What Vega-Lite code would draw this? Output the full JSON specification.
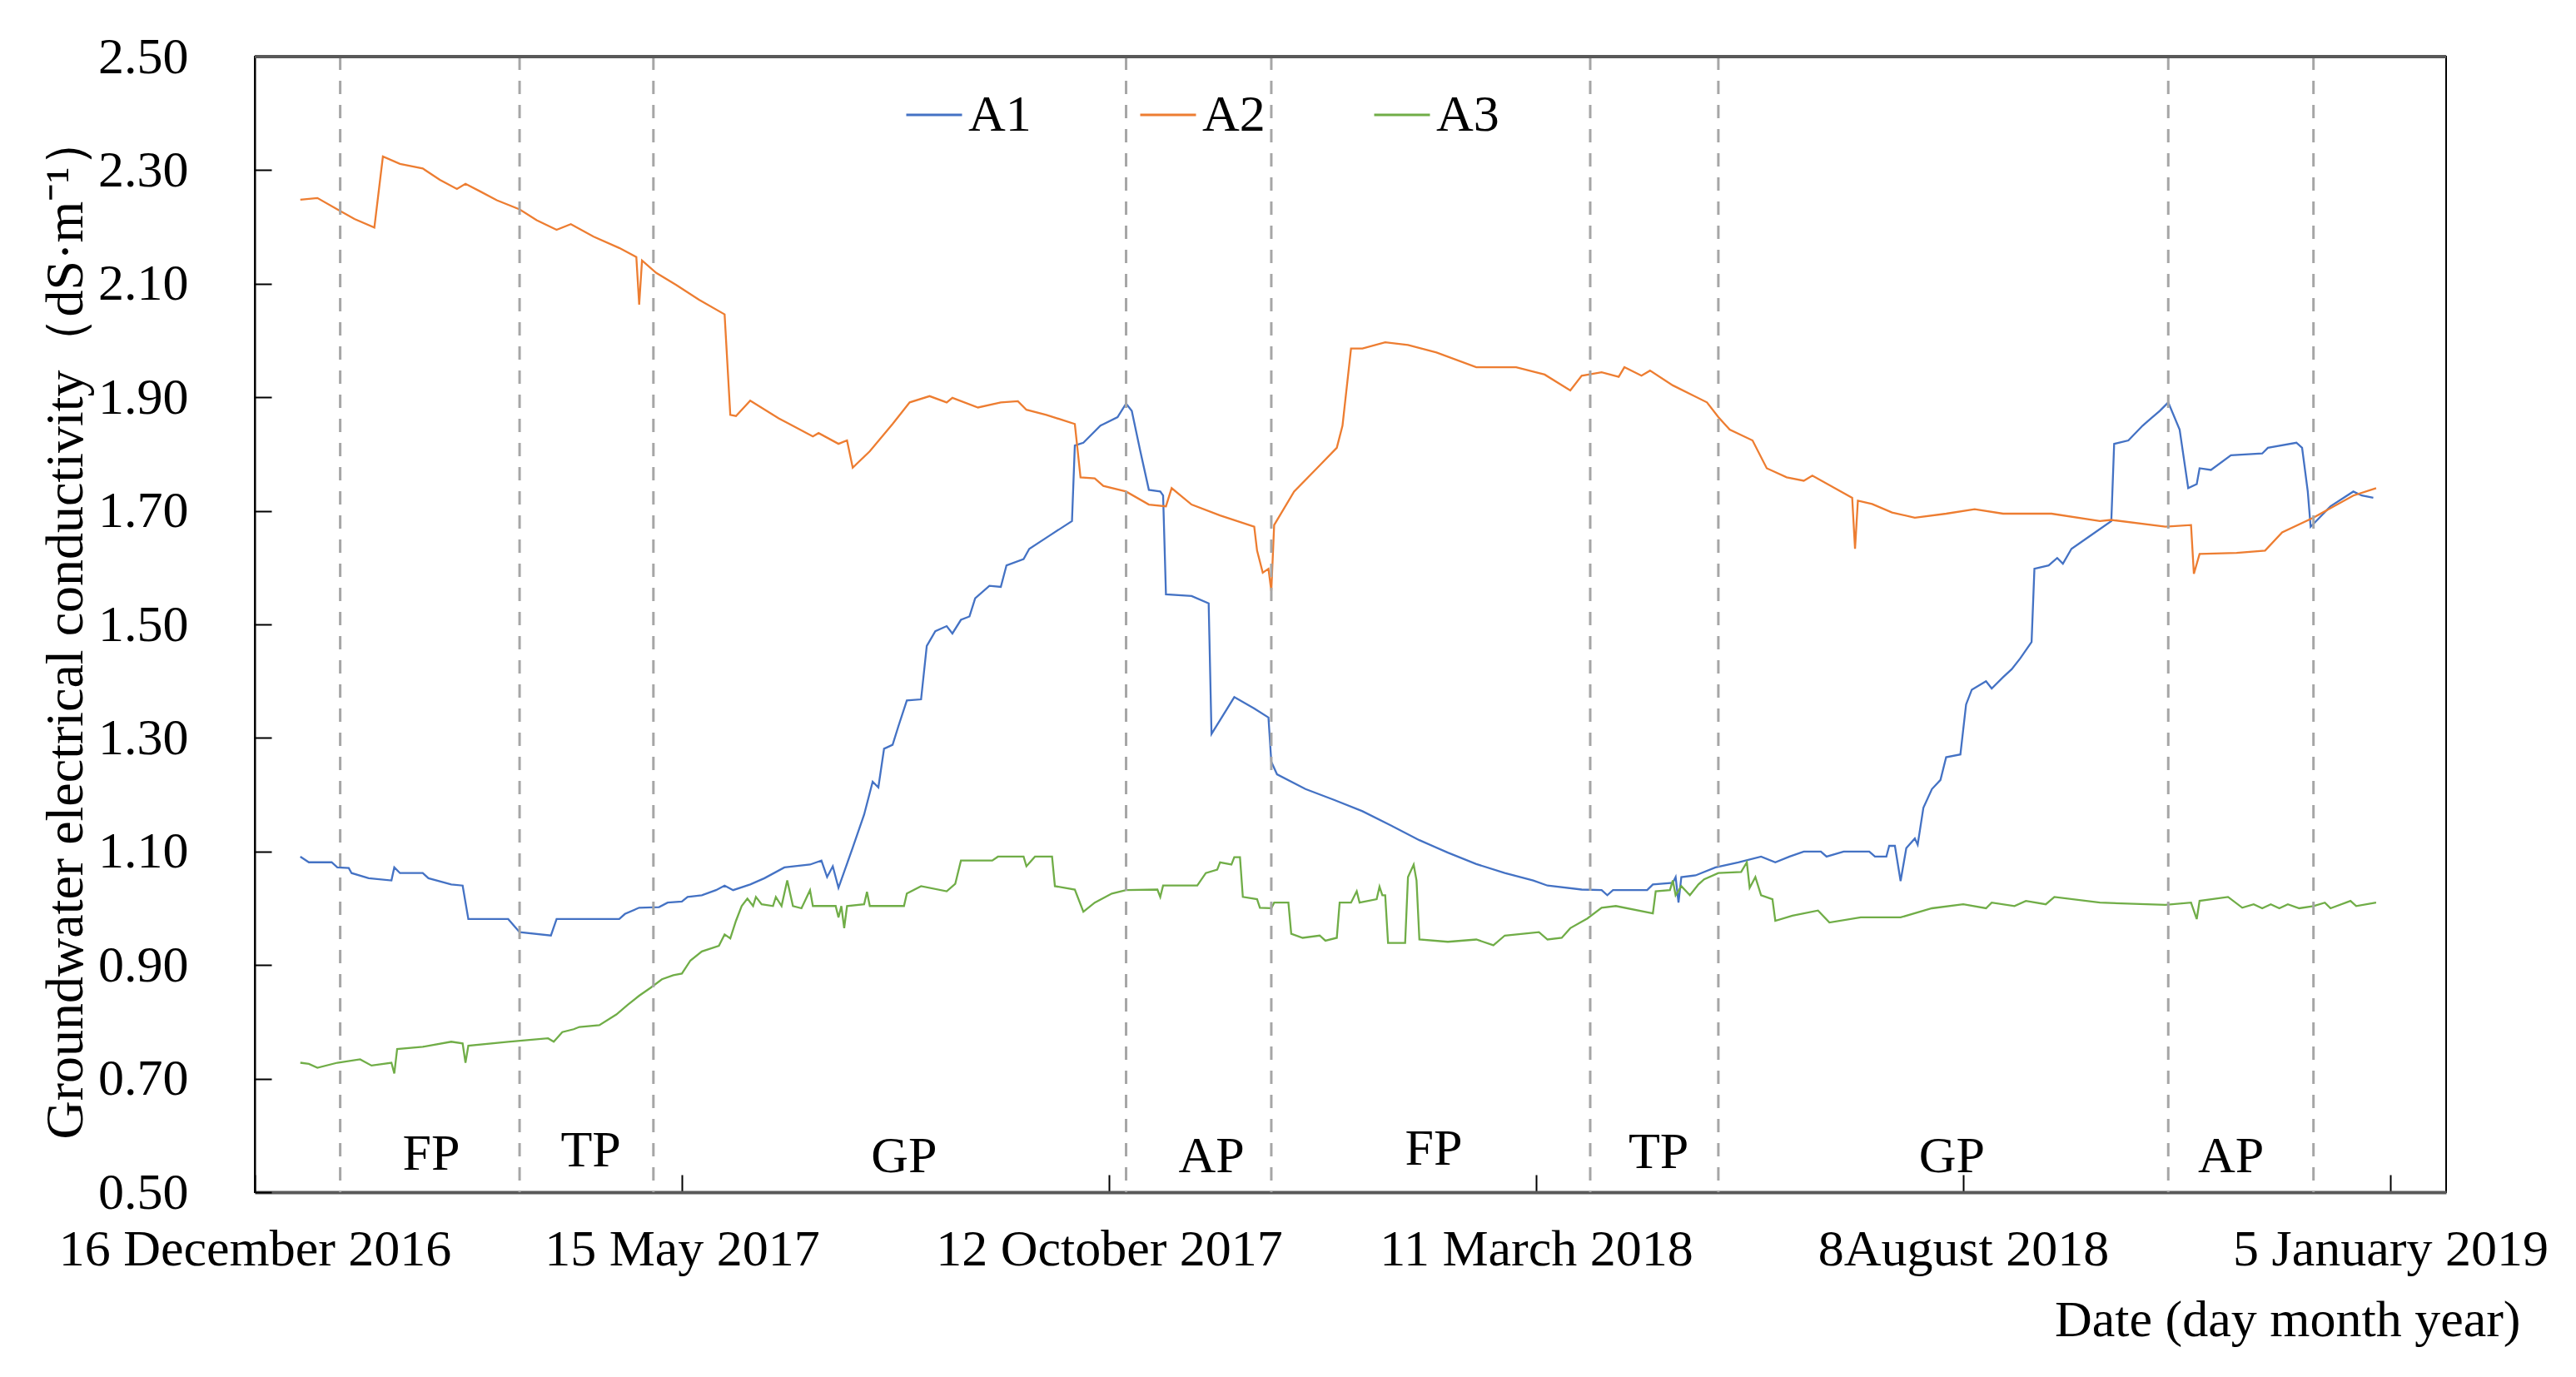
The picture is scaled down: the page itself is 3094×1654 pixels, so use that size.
{
  "$schema": "https://vega.github.io/schema/vega-lite/v6.json",
  "width": 2632,
  "height": 1364,
  "autosize": {"type": "none"},
  "padding": {"left": 306, "top": 68, "right": 156, "bottom": 222},
  "background": "white",
  "config": {
    "view": {"stroke": "#000000", "strokeWidth": 2},
    "font": "Liberation Serif"
  },
  "datasets": {
    "bounds": [
      {"date": "2017-01-15"}, {"date": "2017-03-19"}, {"date": "2017-05-05"},
      {"date": "2017-10-18"}, {"date": "2017-12-08"}, {"date": "2018-03-30"},
      {"date": "2018-05-14"}, {"date": "2018-10-19"}, {"date": "2018-12-09"}
    ],
    "periods": [
      {"date": "2017-02-16", "ec": 0.54, "label": "FP"},
      {"date": "2017-04-13", "ec": 0.545, "label": "TP"},
      {"date": "2017-08-01", "ec": 0.535, "label": "GP"},
      {"date": "2017-11-17", "ec": 0.535, "label": "AP"},
      {"date": "2018-02-03", "ec": 0.548, "label": "FP"},
      {"date": "2018-04-23", "ec": 0.543, "label": "TP"},
      {"date": "2018-08-04", "ec": 0.535, "label": "GP"},
      {"date": "2018-11-10", "ec": 0.535, "label": "AP"}
    ],
    "top": [{"ec": 2.5}],
    "ec": [
      {"site":"A1","date":"2017-01-01","ec":1.091},{"site":"A1","date":"2017-01-04","ec":1.081},{"site":"A1","date":"2017-01-12","ec":1.081},{"site":"A1","date":"2017-01-14","ec":1.072},{"site":"A1","date":"2017-01-18","ec":1.071},{"site":"A1","date":"2017-01-19","ec":1.062},{"site":"A1","date":"2017-01-25","ec":1.053},{"site":"A1","date":"2017-02-02","ec":1.049},{"site":"A1","date":"2017-02-03","ec":1.072},{"site":"A1","date":"2017-02-05","ec":1.062},{"site":"A1","date":"2017-02-13","ec":1.062},{"site":"A1","date":"2017-02-15","ec":1.053},{"site":"A1","date":"2017-02-23","ec":1.042},{"site":"A1","date":"2017-02-27","ec":1.040},{"site":"A1","date":"2017-03-01","ec":0.981},{"site":"A1","date":"2017-03-15","ec":0.981},{"site":"A1","date":"2017-03-19","ec":0.958},{"site":"A1","date":"2017-03-30","ec":0.952},{"site":"A1","date":"2017-04-01","ec":0.981},{"site":"A1","date":"2017-04-23","ec":0.981},{"site":"A1","date":"2017-04-25","ec":0.990},{"site":"A1","date":"2017-04-30","ec":1.001},{"site":"A1","date":"2017-05-07","ec":1.002},{"site":"A1","date":"2017-05-10","ec":1.010},{"site":"A1","date":"2017-05-15","ec":1.012},{"site":"A1","date":"2017-05-17","ec":1.020},{"site":"A1","date":"2017-05-22","ec":1.023},{"site":"A1","date":"2017-05-27","ec":1.032},{"site":"A1","date":"2017-05-30","ec":1.040},{"site":"A1","date":"2017-06-02","ec":1.032},{"site":"A1","date":"2017-06-08","ec":1.042},{"site":"A1","date":"2017-06-13","ec":1.053},{"site":"A1","date":"2017-06-20","ec":1.072},{"site":"A1","date":"2017-06-29","ec":1.077},{"site":"A1","date":"2017-07-03","ec":1.084},{"site":"A1","date":"2017-07-05","ec":1.055},{"site":"A1","date":"2017-07-07","ec":1.074},{"site":"A1","date":"2017-07-09","ec":1.036},{"site":"A1","date":"2017-07-14","ec":1.107},{"site":"A1","date":"2017-07-18","ec":1.165},{"site":"A1","date":"2017-07-21","ec":1.223},{"site":"A1","date":"2017-07-23","ec":1.213},{"site":"A1","date":"2017-07-25","ec":1.281},{"site":"A1","date":"2017-07-28","ec":1.288},{"site":"A1","date":"2017-07-30","ec":1.320},{"site":"A1","date":"2017-08-02","ec":1.366},{"site":"A1","date":"2017-08-07","ec":1.368},{"site":"A1","date":"2017-08-09","ec":1.462},{"site":"A1","date":"2017-08-12","ec":1.488},{"site":"A1","date":"2017-08-16","ec":1.497},{"site":"A1","date":"2017-08-18","ec":1.484},{"site":"A1","date":"2017-08-21","ec":1.508},{"site":"A1","date":"2017-08-24","ec":1.514},{"site":"A1","date":"2017-08-26","ec":1.546},{"site":"A1","date":"2017-08-31","ec":1.568},{"site":"A1","date":"2017-09-04","ec":1.566},{"site":"A1","date":"2017-09-06","ec":1.604},{"site":"A1","date":"2017-09-12","ec":1.615},{"site":"A1","date":"2017-09-14","ec":1.633},{"site":"A1","date":"2017-09-21","ec":1.656},{"site":"A1","date":"2017-09-29","ec":1.682},{"site":"A1","date":"2017-09-30","ec":1.815},{"site":"A1","date":"2017-10-03","ec":1.820},{"site":"A1","date":"2017-10-09","ec":1.850},{"site":"A1","date":"2017-10-15","ec":1.865},{"site":"A1","date":"2017-10-18","ec":1.889},{"site":"A1","date":"2017-10-20","ec":1.876},{"site":"A1","date":"2017-10-23","ec":1.805},{"site":"A1","date":"2017-10-26","ec":1.737},{"site":"A1","date":"2017-10-30","ec":1.734},{"site":"A1","date":"2017-10-31","ec":1.727},{"site":"A1","date":"2017-11-01","ec":1.553},{"site":"A1","date":"2017-11-10","ec":1.550},{"site":"A1","date":"2017-11-16","ec":1.537},{"site":"A1","date":"2017-11-17","ec":1.307},{"site":"A1","date":"2017-11-25","ec":1.372},{"site":"A1","date":"2017-12-02","ec":1.352},{"site":"A1","date":"2017-12-07","ec":1.336},{"site":"A1","date":"2017-12-08","ec":1.258},{"site":"A1","date":"2017-12-10","ec":1.236},{"site":"A1","date":"2017-12-20","ec":1.210},{"site":"A1","date":"2017-12-30","ec":1.191},{"site":"A1","date":"2018-01-09","ec":1.171},{"site":"A1","date":"2018-01-19","ec":1.146},{"site":"A1","date":"2018-01-29","ec":1.120},{"site":"A1","date":"2018-02-08","ec":1.098},{"site":"A1","date":"2018-02-18","ec":1.078},{"site":"A1","date":"2018-02-28","ec":1.062},{"site":"A1","date":"2018-03-10","ec":1.049},{"site":"A1","date":"2018-03-15","ec":1.040},{"site":"A1","date":"2018-03-27","ec":1.033},{"site":"A1","date":"2018-04-03","ec":1.032},{"site":"A1","date":"2018-04-05","ec":1.023},{"site":"A1","date":"2018-04-07","ec":1.032},{"site":"A1","date":"2018-04-19","ec":1.032},{"site":"A1","date":"2018-04-21","ec":1.042},{"site":"A1","date":"2018-04-28","ec":1.045},{"site":"A1","date":"2018-04-29","ec":1.055},{"site":"A1","date":"2018-04-30","ec":1.010},{"site":"A1","date":"2018-05-01","ec":1.055},{"site":"A1","date":"2018-05-06","ec":1.058},{"site":"A1","date":"2018-05-13","ec":1.072},{"site":"A1","date":"2018-05-21","ec":1.081},{"site":"A1","date":"2018-05-29","ec":1.091},{"site":"A1","date":"2018-06-03","ec":1.081},{"site":"A1","date":"2018-06-08","ec":1.091},{"site":"A1","date":"2018-06-13","ec":1.100},{"site":"A1","date":"2018-06-19","ec":1.100},{"site":"A1","date":"2018-06-21","ec":1.091},{"site":"A1","date":"2018-06-27","ec":1.100},{"site":"A1","date":"2018-07-06","ec":1.100},{"site":"A1","date":"2018-07-08","ec":1.091},{"site":"A1","date":"2018-07-12","ec":1.091},{"site":"A1","date":"2018-07-13","ec":1.110},{"site":"A1","date":"2018-07-15","ec":1.110},{"site":"A1","date":"2018-07-17","ec":1.048},{"site":"A1","date":"2018-07-19","ec":1.106},{"site":"A1","date":"2018-07-22","ec":1.123},{"site":"A1","date":"2018-07-23","ec":1.112},{"site":"A1","date":"2018-07-25","ec":1.177},{"site":"A1","date":"2018-07-28","ec":1.210},{"site":"A1","date":"2018-07-31","ec":1.226},{"site":"A1","date":"2018-08-02","ec":1.266},{"site":"A1","date":"2018-08-07","ec":1.271},{"site":"A1","date":"2018-08-09","ec":1.359},{"site":"A1","date":"2018-08-11","ec":1.385},{"site":"A1","date":"2018-08-16","ec":1.400},{"site":"A1","date":"2018-08-18","ec":1.387},{"site":"A1","date":"2018-08-22","ec":1.407},{"site":"A1","date":"2018-08-25","ec":1.421},{"site":"A1","date":"2018-08-28","ec":1.440},{"site":"A1","date":"2018-09-01","ec":1.469},{"site":"A1","date":"2018-09-02","ec":1.598},{"site":"A1","date":"2018-09-07","ec":1.604},{"site":"A1","date":"2018-09-10","ec":1.617},{"site":"A1","date":"2018-09-12","ec":1.607},{"site":"A1","date":"2018-09-15","ec":1.633},{"site":"A1","date":"2018-09-21","ec":1.654},{"site":"A1","date":"2018-09-29","ec":1.682},{"site":"A1","date":"2018-09-30","ec":1.818},{"site":"A1","date":"2018-10-05","ec":1.824},{"site":"A1","date":"2018-10-10","ec":1.850},{"site":"A1","date":"2018-10-13","ec":1.863},{"site":"A1","date":"2018-10-16","ec":1.876},{"site":"A1","date":"2018-10-19","ec":1.891},{"site":"A1","date":"2018-10-23","ec":1.843},{"site":"A1","date":"2018-10-26","ec":1.740},{"site":"A1","date":"2018-10-29","ec":1.747},{"site":"A1","date":"2018-10-30","ec":1.775},{"site":"A1","date":"2018-11-03","ec":1.772},{"site":"A1","date":"2018-11-10","ec":1.798},{"site":"A1","date":"2018-11-21","ec":1.801},{"site":"A1","date":"2018-11-23","ec":1.811},{"site":"A1","date":"2018-12-03","ec":1.820},{"site":"A1","date":"2018-12-05","ec":1.811},{"site":"A1","date":"2018-12-07","ec":1.734},{"site":"A1","date":"2018-12-08","ec":1.672},{"site":"A1","date":"2018-12-15","ec":1.708},{"site":"A1","date":"2018-12-23","ec":1.734},{"site":"A1","date":"2018-12-26","ec":1.727},{"site":"A1","date":"2018-12-30","ec":1.723},
      {"site":"A2","date":"2017-01-01","ec":2.248},{"site":"A2","date":"2017-01-07","ec":2.251},{"site":"A2","date":"2017-01-14","ec":2.231},{"site":"A2","date":"2017-01-20","ec":2.214},{"site":"A2","date":"2017-01-27","ec":2.199},{"site":"A2","date":"2017-01-30","ec":2.324},{"site":"A2","date":"2017-02-05","ec":2.311},{"site":"A2","date":"2017-02-13","ec":2.303},{"site":"A2","date":"2017-02-19","ec":2.283},{"site":"A2","date":"2017-02-25","ec":2.267},{"site":"A2","date":"2017-02-28","ec":2.276},{"site":"A2","date":"2017-03-05","ec":2.263},{"site":"A2","date":"2017-03-11","ec":2.247},{"site":"A2","date":"2017-03-19","ec":2.231},{"site":"A2","date":"2017-03-25","ec":2.212},{"site":"A2","date":"2017-04-01","ec":2.195},{"site":"A2","date":"2017-04-06","ec":2.205},{"site":"A2","date":"2017-04-14","ec":2.183},{"site":"A2","date":"2017-04-23","ec":2.163},{"site":"A2","date":"2017-04-29","ec":2.147},{"site":"A2","date":"2017-04-30","ec":2.063},{"site":"A2","date":"2017-05-01","ec":2.141},{"site":"A2","date":"2017-05-06","ec":2.119},{"site":"A2","date":"2017-05-13","ec":2.098},{"site":"A2","date":"2017-05-21","ec":2.072},{"site":"A2","date":"2017-05-30","ec":2.046},{"site":"A2","date":"2017-06-01","ec":1.869},{"site":"A2","date":"2017-06-03","ec":1.867},{"site":"A2","date":"2017-06-08","ec":1.894},{"site":"A2","date":"2017-06-18","ec":1.863},{"site":"A2","date":"2017-06-30","ec":1.831},{"site":"A2","date":"2017-07-02","ec":1.837},{"site":"A2","date":"2017-07-09","ec":1.818},{"site":"A2","date":"2017-07-12","ec":1.824},{"site":"A2","date":"2017-07-14","ec":1.776},{"site":"A2","date":"2017-07-20","ec":1.805},{"site":"A2","date":"2017-07-28","ec":1.853},{"site":"A2","date":"2017-08-03","ec":1.891},{"site":"A2","date":"2017-08-10","ec":1.902},{"site":"A2","date":"2017-08-16","ec":1.891},{"site":"A2","date":"2017-08-18","ec":1.899},{"site":"A2","date":"2017-08-27","ec":1.882},{"site":"A2","date":"2017-09-04","ec":1.891},{"site":"A2","date":"2017-09-10","ec":1.893},{"site":"A2","date":"2017-09-13","ec":1.878},{"site":"A2","date":"2017-09-20","ec":1.869},{"site":"A2","date":"2017-09-30","ec":1.853},{"site":"A2","date":"2017-10-02","ec":1.759},{"site":"A2","date":"2017-10-07","ec":1.757},{"site":"A2","date":"2017-10-10","ec":1.744},{"site":"A2","date":"2017-10-18","ec":1.734},{"site":"A2","date":"2017-10-26","ec":1.711},{"site":"A2","date":"2017-11-01","ec":1.708},{"site":"A2","date":"2017-11-03","ec":1.740},{"site":"A2","date":"2017-11-10","ec":1.711},{"site":"A2","date":"2017-11-20","ec":1.692},{"site":"A2","date":"2017-12-02","ec":1.672},{"site":"A2","date":"2017-12-03","ec":1.630},{"site":"A2","date":"2017-12-05","ec":1.591},{"site":"A2","date":"2017-12-07","ec":1.598},{"site":"A2","date":"2017-12-08","ec":1.559},{"site":"A2","date":"2017-12-09","ec":1.675},{"site":"A2","date":"2017-12-16","ec":1.734},{"site":"A2","date":"2017-12-24","ec":1.775},{"site":"A2","date":"2017-12-31","ec":1.811},{"site":"A2","date":"2018-01-02","ec":1.850},{"site":"A2","date":"2018-01-05","ec":1.986},{"site":"A2","date":"2018-01-09","ec":1.986},{"site":"A2","date":"2018-01-17","ec":1.997},{"site":"A2","date":"2018-01-25","ec":1.992},{"site":"A2","date":"2018-02-04","ec":1.979},{"site":"A2","date":"2018-02-18","ec":1.953},{"site":"A2","date":"2018-03-04","ec":1.953},{"site":"A2","date":"2018-03-14","ec":1.940},{"site":"A2","date":"2018-03-23","ec":1.912},{"site":"A2","date":"2018-03-27","ec":1.938},{"site":"A2","date":"2018-04-03","ec":1.944},{"site":"A2","date":"2018-04-09","ec":1.936},{"site":"A2","date":"2018-04-11","ec":1.953},{"site":"A2","date":"2018-04-17","ec":1.938},{"site":"A2","date":"2018-04-20","ec":1.947},{"site":"A2","date":"2018-04-28","ec":1.921},{"site":"A2","date":"2018-05-10","ec":1.891},{"site":"A2","date":"2018-05-14","ec":1.865},{"site":"A2","date":"2018-05-18","ec":1.843},{"site":"A2","date":"2018-05-26","ec":1.824},{"site":"A2","date":"2018-05-31","ec":1.775},{"site":"A2","date":"2018-06-07","ec":1.759},{"site":"A2","date":"2018-06-13","ec":1.753},{"site":"A2","date":"2018-06-16","ec":1.762},{"site":"A2","date":"2018-06-30","ec":1.723},{"site":"A2","date":"2018-07-01","ec":1.633},{"site":"A2","date":"2018-07-02","ec":1.718},{"site":"A2","date":"2018-07-07","ec":1.712},{"site":"A2","date":"2018-07-14","ec":1.697},{"site":"A2","date":"2018-07-22","ec":1.688},{"site":"A2","date":"2018-08-02","ec":1.695},{"site":"A2","date":"2018-08-12","ec":1.703},{"site":"A2","date":"2018-08-22","ec":1.695},{"site":"A2","date":"2018-09-08","ec":1.695},{"site":"A2","date":"2018-09-25","ec":1.682},{"site":"A2","date":"2018-09-29","ec":1.684},{"site":"A2","date":"2018-10-18","ec":1.672},{"site":"A2","date":"2018-10-27","ec":1.675},{"site":"A2","date":"2018-10-28","ec":1.589},{"site":"A2","date":"2018-10-30","ec":1.624},{"site":"A2","date":"2018-11-12","ec":1.626},{"site":"A2","date":"2018-11-22","ec":1.630},{"site":"A2","date":"2018-11-28","ec":1.662},{"site":"A2","date":"2018-12-09","ec":1.688},{"site":"A2","date":"2018-12-23","ec":1.727},{"site":"A2","date":"2018-12-31","ec":1.740},
      {"site":"A3","date":"2017-01-01","ec":0.728},{"site":"A3","date":"2017-01-04","ec":0.726},{"site":"A3","date":"2017-01-07","ec":0.719},{"site":"A3","date":"2017-01-14","ec":0.728},{"site":"A3","date":"2017-01-22","ec":0.734},{"site":"A3","date":"2017-01-26","ec":0.723},{"site":"A3","date":"2017-02-02","ec":0.728},{"site":"A3","date":"2017-02-03","ec":0.709},{"site":"A3","date":"2017-02-04","ec":0.752},{"site":"A3","date":"2017-02-13","ec":0.756},{"site":"A3","date":"2017-02-23","ec":0.765},{"site":"A3","date":"2017-02-27","ec":0.762},{"site":"A3","date":"2017-02-28","ec":0.728},{"site":"A3","date":"2017-03-01","ec":0.758},{"site":"A3","date":"2017-03-15","ec":0.765},{"site":"A3","date":"2017-03-29","ec":0.771},{"site":"A3","date":"2017-03-31","ec":0.765},{"site":"A3","date":"2017-04-03","ec":0.782},{"site":"A3","date":"2017-04-07","ec":0.787},{"site":"A3","date":"2017-04-09","ec":0.791},{"site":"A3","date":"2017-04-16","ec":0.794},{"site":"A3","date":"2017-04-22","ec":0.813},{"site":"A3","date":"2017-04-26","ec":0.830},{"site":"A3","date":"2017-04-30","ec":0.846},{"site":"A3","date":"2017-05-04","ec":0.860},{"site":"A3","date":"2017-05-08","ec":0.875},{"site":"A3","date":"2017-05-12","ec":0.882},{"site":"A3","date":"2017-05-15","ec":0.885},{"site":"A3","date":"2017-05-18","ec":0.908},{"site":"A3","date":"2017-05-22","ec":0.924},{"site":"A3","date":"2017-05-28","ec":0.934},{"site":"A3","date":"2017-05-30","ec":0.954},{"site":"A3","date":"2017-06-01","ec":0.947},{"site":"A3","date":"2017-06-03","ec":0.978},{"site":"A3","date":"2017-06-05","ec":1.004},{"site":"A3","date":"2017-06-07","ec":1.017},{"site":"A3","date":"2017-06-09","ec":1.004},{"site":"A3","date":"2017-06-10","ec":1.020},{"site":"A3","date":"2017-06-12","ec":1.007},{"site":"A3","date":"2017-06-16","ec":1.004},{"site":"A3","date":"2017-06-17","ec":1.020},{"site":"A3","date":"2017-06-19","ec":1.004},{"site":"A3","date":"2017-06-21","ec":1.049},{"site":"A3","date":"2017-06-23","ec":1.004},{"site":"A3","date":"2017-06-26","ec":1.000},{"site":"A3","date":"2017-06-29","ec":1.032},{"site":"A3","date":"2017-06-30","ec":1.004},{"site":"A3","date":"2017-07-08","ec":1.004},{"site":"A3","date":"2017-07-09","ec":0.984},{"site":"A3","date":"2017-07-10","ec":1.004},{"site":"A3","date":"2017-07-11","ec":0.965},{"site":"A3","date":"2017-07-12","ec":1.004},{"site":"A3","date":"2017-07-18","ec":1.007},{"site":"A3","date":"2017-07-19","ec":1.029},{"site":"A3","date":"2017-07-20","ec":1.004},{"site":"A3","date":"2017-08-01","ec":1.004},{"site":"A3","date":"2017-08-02","ec":1.026},{"site":"A3","date":"2017-08-07","ec":1.039},{"site":"A3","date":"2017-08-16","ec":1.030},{"site":"A3","date":"2017-08-19","ec":1.043},{"site":"A3","date":"2017-08-21","ec":1.084},{"site":"A3","date":"2017-09-01","ec":1.084},{"site":"A3","date":"2017-09-03","ec":1.091},{"site":"A3","date":"2017-09-12","ec":1.091},{"site":"A3","date":"2017-09-13","ec":1.074},{"site":"A3","date":"2017-09-16","ec":1.091},{"site":"A3","date":"2017-09-22","ec":1.091},{"site":"A3","date":"2017-09-23","ec":1.039},{"site":"A3","date":"2017-09-30","ec":1.033},{"site":"A3","date":"2017-10-03","ec":0.994},{"site":"A3","date":"2017-10-07","ec":1.010},{"site":"A3","date":"2017-10-13","ec":1.026},{"site":"A3","date":"2017-10-18","ec":1.032},{"site":"A3","date":"2017-10-29","ec":1.033},{"site":"A3","date":"2017-10-30","ec":1.020},{"site":"A3","date":"2017-10-31","ec":1.040},{"site":"A3","date":"2017-11-12","ec":1.040},{"site":"A3","date":"2017-11-15","ec":1.062},{"site":"A3","date":"2017-11-19","ec":1.068},{"site":"A3","date":"2017-11-20","ec":1.081},{"site":"A3","date":"2017-11-24","ec":1.077},{"site":"A3","date":"2017-11-25","ec":1.090},{"site":"A3","date":"2017-11-27","ec":1.090},{"site":"A3","date":"2017-11-28","ec":1.020},{"site":"A3","date":"2017-12-03","ec":1.016},{"site":"A3","date":"2017-12-04","ec":1.001},{"site":"A3","date":"2017-12-08","ec":1.000},{"site":"A3","date":"2017-12-09","ec":1.010},{"site":"A3","date":"2017-12-14","ec":1.010},{"site":"A3","date":"2017-12-15","ec":0.955},{"site":"A3","date":"2017-12-19","ec":0.948},{"site":"A3","date":"2017-12-25","ec":0.952},{"site":"A3","date":"2017-12-27","ec":0.943},{"site":"A3","date":"2017-12-31","ec":0.948},{"site":"A3","date":"2018-01-01","ec":1.010},{"site":"A3","date":"2018-01-05","ec":1.010},{"site":"A3","date":"2018-01-07","ec":1.030},{"site":"A3","date":"2018-01-08","ec":1.010},{"site":"A3","date":"2018-01-14","ec":1.016},{"site":"A3","date":"2018-01-15","ec":1.038},{"site":"A3","date":"2018-01-16","ec":1.023},{"site":"A3","date":"2018-01-17","ec":1.023},{"site":"A3","date":"2018-01-18","ec":0.939},{"site":"A3","date":"2018-01-24","ec":0.939},{"site":"A3","date":"2018-01-25","ec":1.055},{"site":"A3","date":"2018-01-27","ec":1.077},{"site":"A3","date":"2018-01-28","ec":1.049},{"site":"A3","date":"2018-01-29","ec":0.945},{"site":"A3","date":"2018-02-08","ec":0.941},{"site":"A3","date":"2018-02-18","ec":0.945},{"site":"A3","date":"2018-02-24","ec":0.935},{"site":"A3","date":"2018-02-28","ec":0.952},{"site":"A3","date":"2018-03-12","ec":0.958},{"site":"A3","date":"2018-03-15","ec":0.945},{"site":"A3","date":"2018-03-20","ec":0.948},{"site":"A3","date":"2018-03-23","ec":0.965},{"site":"A3","date":"2018-03-29","ec":0.982},{"site":"A3","date":"2018-04-03","ec":1.001},{"site":"A3","date":"2018-04-08","ec":1.004},{"site":"A3","date":"2018-04-21","ec":0.991},{"site":"A3","date":"2018-04-22","ec":1.030},{"site":"A3","date":"2018-04-27","ec":1.032},{"site":"A3","date":"2018-04-28","ec":1.049},{"site":"A3","date":"2018-04-29","ec":1.023},{"site":"A3","date":"2018-05-01","ec":1.039},{"site":"A3","date":"2018-05-04","ec":1.023},{"site":"A3","date":"2018-05-07","ec":1.042},{"site":"A3","date":"2018-05-09","ec":1.051},{"site":"A3","date":"2018-05-14","ec":1.062},{"site":"A3","date":"2018-05-22","ec":1.064},{"site":"A3","date":"2018-05-24","ec":1.081},{"site":"A3","date":"2018-05-25","ec":1.036},{"site":"A3","date":"2018-05-27","ec":1.055},{"site":"A3","date":"2018-05-29","ec":1.023},{"site":"A3","date":"2018-06-02","ec":1.016},{"site":"A3","date":"2018-06-03","ec":0.978},{"site":"A3","date":"2018-06-09","ec":0.987},{"site":"A3","date":"2018-06-18","ec":0.996},{"site":"A3","date":"2018-06-22","ec":0.975},{"site":"A3","date":"2018-07-03","ec":0.984},{"site":"A3","date":"2018-07-17","ec":0.984},{"site":"A3","date":"2018-07-28","ec":1.000},{"site":"A3","date":"2018-08-08","ec":1.007},{"site":"A3","date":"2018-08-16","ec":1.000},{"site":"A3","date":"2018-08-18","ec":1.010},{"site":"A3","date":"2018-08-26","ec":1.004},{"site":"A3","date":"2018-08-30","ec":1.013},{"site":"A3","date":"2018-09-06","ec":1.007},{"site":"A3","date":"2018-09-09","ec":1.020},{"site":"A3","date":"2018-09-25","ec":1.010},{"site":"A3","date":"2018-10-18","ec":1.006},{"site":"A3","date":"2018-10-27","ec":1.010},{"site":"A3","date":"2018-10-29","ec":0.981},{"site":"A3","date":"2018-10-30","ec":1.013},{"site":"A3","date":"2018-11-09","ec":1.020},{"site":"A3","date":"2018-11-14","ec":1.001},{"site":"A3","date":"2018-11-18","ec":1.007},{"site":"A3","date":"2018-11-21","ec":1.000},{"site":"A3","date":"2018-11-24","ec":1.007},{"site":"A3","date":"2018-11-27","ec":1.000},{"site":"A3","date":"2018-11-30","ec":1.007},{"site":"A3","date":"2018-12-04","ec":1.000},{"site":"A3","date":"2018-12-09","ec":1.004},{"site":"A3","date":"2018-12-13","ec":1.010},{"site":"A3","date":"2018-12-15","ec":1.000},{"site":"A3","date":"2018-12-22","ec":1.013},{"site":"A3","date":"2018-12-24","ec":1.004},{"site":"A3","date":"2018-12-31","ec":1.010}
    ]
  },
  "layer": [
    {
      "data": {"name": "ec"},
      "mark": {"type": "line", "strokeWidth": 2.3, "interpolate": "linear"},
      "encoding": {
        "x": {
          "field": "date", "type": "temporal",
          "scale": {"type": "utc", "domain": [{"year": 2016, "month": 12, "date": 16, "utc": true}, {"year": 2019, "month": 1, "date": 24, "hours": 14, "utc": true}]},
          "axis": {
            "values": [
              {"year": 2016, "month": 12, "date": 16, "utc": true},
              {"year": 2017, "month": 5, "date": 15, "utc": true},
              {"year": 2017, "month": 10, "date": 12, "utc": true},
              {"year": 2018, "month": 3, "date": 11, "utc": true},
              {"year": 2018, "month": 8, "date": 8, "utc": true},
              {"year": 2019, "month": 1, "date": 5, "utc": true}
            ],
            "labelExpr": "replace(utcFormat(datum.value, '%-d %B %Y'), '8 August', '8August')",
            "grid": false,
            "domainColor": "#595959", "domainWidth": 4,
            "tickColor": "#000000", "tickWidth": 2, "tickSize": -21,
            "labelFont": "Liberation Serif", "labelFontSize": 62, "labelColor": "#000000",
            "labelBaseline": "alphabetic", "labelPadding": 108, "labelLimit": 0,
            "labelFlush": false, "labelOverlap": false, "labelBound": false,
            "title": "Date (day month year)",
            "titleFont": "Liberation Serif", "titleFontSize": 62, "titleFontWeight": "normal", "titleColor": "#000000",
            "titleAlign": "right", "titleBaseline": "alphabetic", "titleAnchor": "end",
            "titleX": 2721, "titleY": 172
          }
        },
        "y": {
          "field": "ec", "type": "quantitative",
          "scale": {"domain": [0.5, 2.5], "nice": false, "zero": false},
          "axis": {
            "values": [0.5, 0.7, 0.9, 1.1, 1.3, 1.5, 1.7, 1.9, 2.1, 2.3, 2.5],
            "format": ".2f",
            "grid": false,
            "domainColor": "#000000", "domainWidth": 2,
            "tickColor": "#000000", "tickWidth": 2, "tickSize": -20,
            "labelFont": "Liberation Serif", "labelFontSize": 62, "labelColor": "#000000",
            "labelPadding": 100, "labelFlush": false, "labelOverlap": false, "labelBound": false,
            "title": "Groundwater electrical conductivity（dS·m⁻¹）",
            "titleFont": "Liberation Serif", "titleFontSize": 64, "titleFontWeight": "normal", "titleColor": "#000000",
            "titleAngle": 270, "titleAlign": "center", "titleBaseline": "alphabetic", "titleLimit": 0,
            "titleX": -208, "titleY": 684
          }
        },
        "color": {
          "field": "site", "type": "nominal",
          "scale": {"domain": ["A1", "A2", "A3"], "range": ["#4472C4", "#ED7D31", "#70AD47"]},
          "legend": {
            "title": null, "orient": "none", "direction": "horizontal", "columns": 3,
            "legendX": 781, "legendY": 35, "padding": 0,
            "symbolType": "stroke", "symbolSize": 4489, "symbolStrokeWidth": 3,
            "labelFont": "Liberation Serif", "labelFontSize": 62, "labelColor": "#000000",
            "labelOffset": 6, "columnPadding": 124, "labelLimit": 400
          }
        }
      }
    },
    {
      "data": {"name": "bounds"},
      "mark": {"type": "rule", "color": "#A6A6A6", "strokeWidth": 3, "strokeDash": [16, 13]},
      "encoding": {
        "x": {"field": "date", "type": "temporal",
              "scale": {"type": "utc", "domain": [{"year": 2016, "month": 12, "date": 16, "utc": true}, {"year": 2019, "month": 1, "date": 24, "hours": 14, "utc": true}]}}
      }
    },
    {
      "data": {"name": "periods"},
      "mark": {"type": "text", "font": "Liberation Serif", "fontSize": 62, "color": "#000000", "align": "center", "baseline": "alphabetic"},
      "encoding": {
        "x": {"field": "date", "type": "temporal",
              "scale": {"type": "utc", "domain": [{"year": 2016, "month": 12, "date": 16, "utc": true}, {"year": 2019, "month": 1, "date": 24, "hours": 14, "utc": true}]}},
        "y": {"field": "ec", "type": "quantitative", "scale": {"domain": [0.5, 2.5], "nice": false, "zero": false}},
        "text": {"field": "label", "type": "nominal"}
      }
    },
    {
      "data": {"name": "top"},
      "mark": {"type": "rule", "color": "#595959", "strokeWidth": 4},
      "encoding": {
        "y": {"field": "ec", "type": "quantitative", "scale": {"domain": [0.5, 2.5], "nice": false, "zero": false}}
      }
    }
  ]
}
